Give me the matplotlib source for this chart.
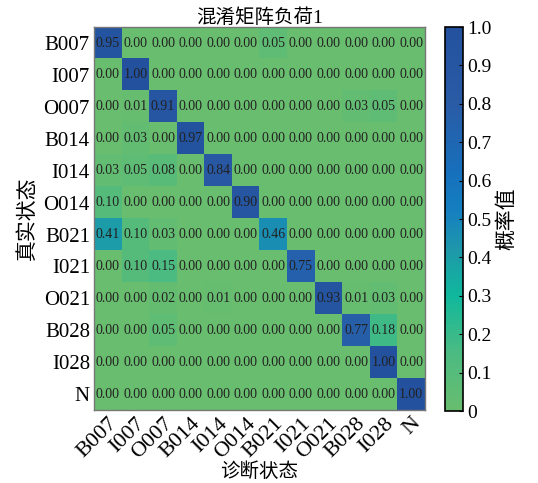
import numpy as np
import matplotlib
matplotlib.use("Agg")
import matplotlib.pyplot as plt
from matplotlib.colors import LinearSegmentedColormap

plt.rcParams['font.family'] = ['Liberation Serif', 'Noto Sans CJK SC']

labels = ["B007", "I007", "O007", "B014", "I014", "O014", "B021", "I021", "O021", "B028", "I028", "N"]
values = [
    [0.95, 0.00, 0.00, 0.00, 0.00, 0.00, 0.05, 0.00, 0.00, 0.00, 0.00, 0.00],
    [0.00, 1.00, 0.00, 0.00, 0.00, 0.00, 0.00, 0.00, 0.00, 0.00, 0.00, 0.00],
    [0.00, 0.01, 0.91, 0.00, 0.00, 0.00, 0.00, 0.00, 0.00, 0.03, 0.05, 0.00],
    [0.00, 0.03, 0.00, 0.97, 0.00, 0.00, 0.00, 0.00, 0.00, 0.00, 0.00, 0.00],
    [0.03, 0.05, 0.08, 0.00, 0.84, 0.00, 0.00, 0.00, 0.00, 0.00, 0.00, 0.00],
    [0.10, 0.00, 0.00, 0.00, 0.00, 0.90, 0.00, 0.00, 0.00, 0.00, 0.00, 0.00],
    [0.41, 0.10, 0.03, 0.00, 0.00, 0.00, 0.46, 0.00, 0.00, 0.00, 0.00, 0.00],
    [0.00, 0.10, 0.15, 0.00, 0.00, 0.00, 0.00, 0.75, 0.00, 0.00, 0.00, 0.00],
    [0.00, 0.00, 0.02, 0.00, 0.01, 0.00, 0.00, 0.00, 0.93, 0.01, 0.03, 0.00],
    [0.00, 0.00, 0.05, 0.00, 0.00, 0.00, 0.00, 0.00, 0.00, 0.77, 0.18, 0.00],
    [0.00, 0.00, 0.00, 0.00, 0.00, 0.00, 0.00, 0.00, 0.00, 0.00, 1.00, 0.00],
    [0.00, 0.00, 0.00, 0.00, 0.00, 0.00, 0.00, 0.00, 0.00, 0.00, 0.00, 1.00],
]
cbar_ticks = [0, 0.1, 0.2, 0.3, 0.4, 0.5, 0.6, 0.7, 0.8, 0.9, 1.0]
cbar_ticklabels = ["0", "0.1", "0.2", "0.3", "0.4", "0.5", "0.6", "0.7", "0.8", "0.9", "1.0"]

data = np.array(values)

cmap = LinearSegmentedColormap.from_list("gb", [
    (0.0, "#68bd6e"),
    (0.15, "#4cbb82"),
    (0.3, "#10b89c"),
    (0.42, "#1e98aa"),
    (0.52, "#1580c0"),
    (0.62, "#1670bc"),
    (0.8, "#2a5ba5"),
    (1.0, "#23519e"),
])

fig = plt.figure(figsize=(5.38, 4.83), dpi=100)
ax = fig.add_axes([0.175, 0.151, 0.615, 0.793])
im = ax.imshow(data, cmap=cmap, vmin=0, vmax=1, aspect='auto', interpolation='nearest')

n = len(labels)
for i in range(n):
    for j in range(n):
        ax.text(j, i, f"{data[i, j]:.2f}", ha='center', va='center', fontsize=10, color='#222222')

ax.set_xticks(range(n))
ax.set_yticks(range(n))
ax.set_xticklabels(labels, rotation=45, ha='right', rotation_mode='anchor', fontsize=16)
ax.set_yticklabels(labels, fontsize=15)
ax.tick_params(length=0, pad=3)
for s in ax.spines.values():
    s.set_color('#777777')
    s.set_linewidth(1.0)

ax.set_title("混淆矩阵负荷1", fontsize=14, pad=2)
ax.set_xlabel("诊断状态", fontsize=14, labelpad=0)
ax.set_ylabel("真实状态", fontsize=15, labelpad=4)

cax = fig.add_axes([0.827, 0.149, 0.034, 0.795])
cb = fig.colorbar(im, cax=cax, ticks=cbar_ticks)
cb.ax.set_yticklabels(cbar_ticklabels, fontsize=14)
cb.ax.tick_params(length=3, width=0.8, direction='in', pad=3)
cb.outline.set_linewidth(1.2)
cb.set_label("概率值", fontsize=15, labelpad=4)

fig.savefig("out.png", dpi=100)
